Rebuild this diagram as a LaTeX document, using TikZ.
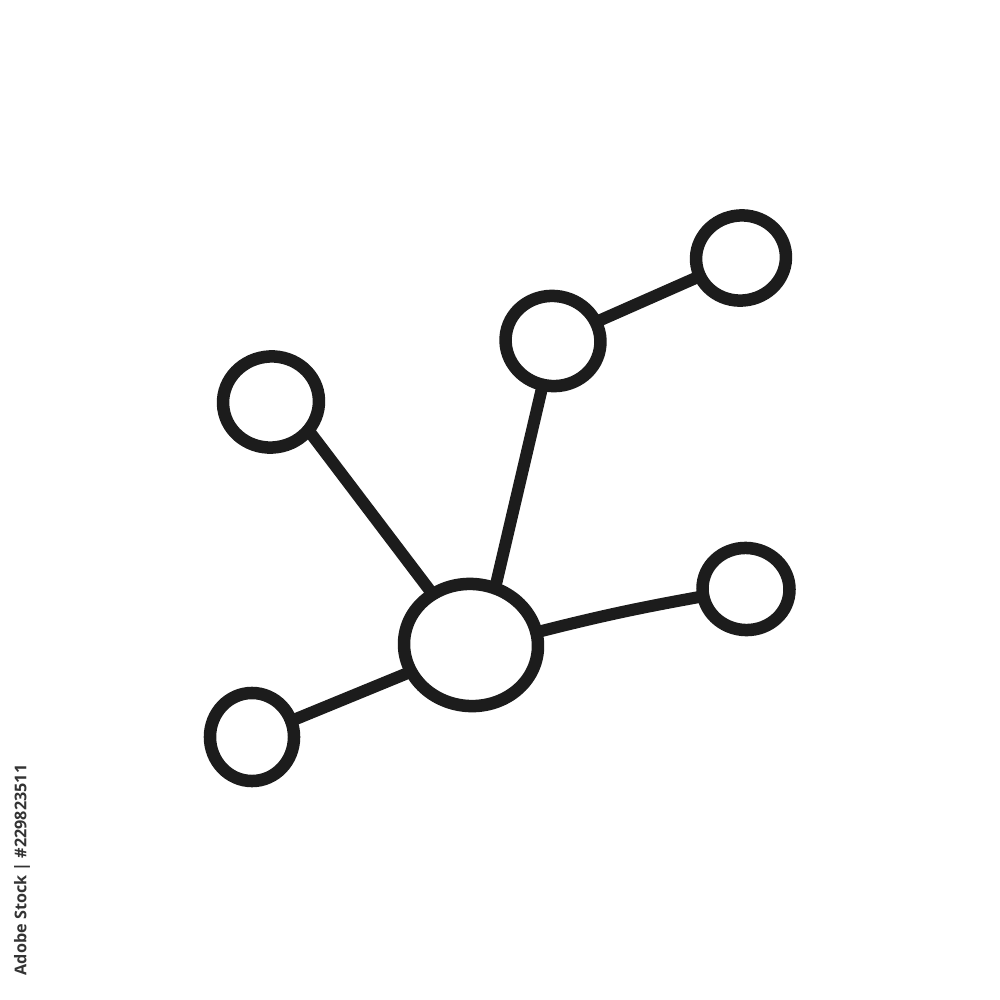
\documentclass[tikz,border=0pt]{standalone}
\usepackage{fontspec}
\setsansfont{Open Sans}
\usetikzlibrary{shapes.geometric}
\definecolor{ink}{HTML}{1C1C1C}
\definecolor{wm}{HTML}{333333}
\tikzset{
  bubble/.style={ellipse, draw=ink, line width=0.125cm, inner sep=0pt, outer sep=0pt},
  link/.style={draw=ink, line width=0.12cm, line cap=round}
}
\begin{document}
\begin{tikzpicture}[x=0.01cm,y=-0.01cm]
\useasboundingbox[fill=white] (0,0) rectangle (1000,1000);
\node[bubble, minimum width=0.96cm, minimum height=0.91cm, rotate=8] (tl) at (271,402) {};
\node[bubble, minimum width=0.95cm, minimum height=0.90cm, rotate=-10] (um) at (553,341) {};
\node[bubble, minimum width=0.90cm, minimum height=0.85cm, rotate=10] (tr) at (741,258) {};
\node[bubble, minimum width=0.87cm, minimum height=0.82cm, rotate=-6] (r) at (746,589) {};
\node[bubble, minimum width=1.34cm, minimum height=1.22cm, rotate=-5] (c) at (471,645) {};
\node[bubble, minimum width=0.84cm, minimum height=0.88cm] (bl) at (252,737) {};
\draw[link] (tl.-45) -- (c.132);
\draw[link] (um) -- (c.72);
\draw[link] (um) -- (tr);
\draw[link] (c.16) to[bend left=2] (r);
\draw[link] (c.209) -- (bl);
\node[rotate=90, text=wm, font=\sffamily\bfseries\fontsize{4.6pt}{5pt}\selectfont, inner sep=0pt] (wmtext) at (22,870) {Adobe Stock | \#229823511};
\end{tikzpicture}
\end{document}
